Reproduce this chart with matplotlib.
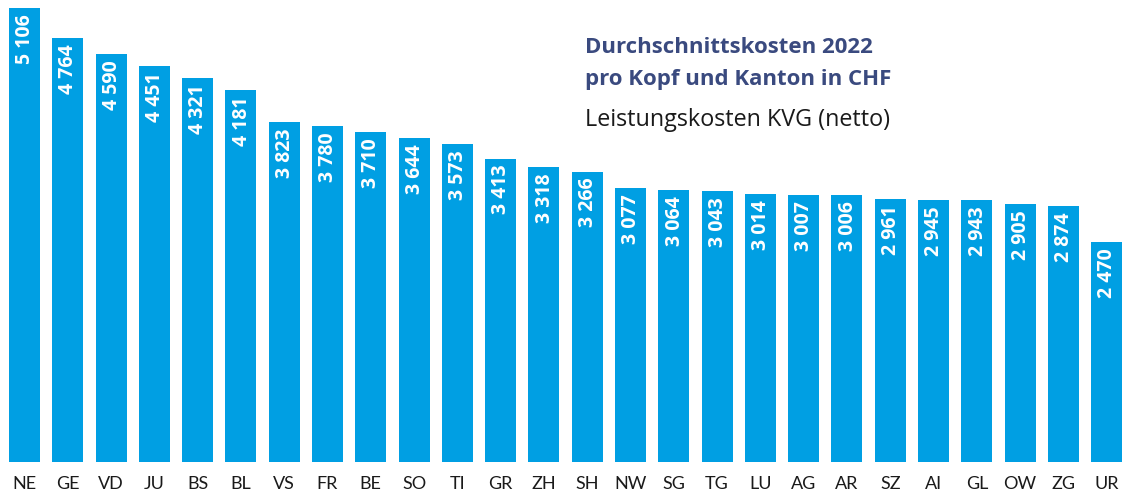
import matplotlib
matplotlib.use('Agg')
from matplotlib import pyplot as plt

# Leistungskosten KVG (netto) pro Kopf, 2022
kantone = ['NE', 'GE', 'VD', 'JU', 'BS', 'BL', 'VS', 'FR', 'BE', 'SO', 'TI', 'GR', 'ZH',
           'SH', 'NW', 'SG', 'TG', 'LU', 'AG', 'AR', 'SZ', 'AI', 'GL', 'OW', 'ZG', 'UR']
kosten = [5106, 4764, 4590, 4451, 4321, 4181, 3823, 3780, 3710, 3644, 3573, 3413, 3318,
          3266, 3077, 3064, 3043, 3014, 3007, 3006, 2961, 2945, 2943, 2905, 2874, 2470]

BLUE = '#009FE3'
NAVY = '#3A4A7F'

plt.rcParams['font.family'] = ['Lato', 'DejaVu Sans']

fig = plt.figure(figsize=(11.24, 4.99), dpi=100)
ax = fig.add_axes([0, 37 / 499, 1, 462 / 499])

x = range(len(kantone))
ax.bar(x, kosten, width=0.716, color=BLUE)

# value labels inside the bars, rotated
for i, v in enumerate(kosten):
    lbl = '{:,}'.format(v).replace(',', ' ')
    ax.annotate(lbl, (i, v), xytext=(0.5, -4.5), textcoords='offset points',
                rotation=90, ha='center', va='top', color='white',
                fontsize=14, fontweight='bold', family='Open Sans')

ax.set_xlim(-0.566, 25.40)
ax.set_ylim(0, 5106 * 462 / 454)
ax.set_xticks(list(x))
ax.set_xticklabels(kantone, fontsize=13, color='#1a1a1a')
ax.tick_params(axis='x', length=0, pad=10)
ax.set_yticks([])
for s in ax.spines.values():
    s.set_visible(False)

tx = 585 / 1124
fig.text(tx, 1 - 53 / 499, 'Durchschnittskosten 2022', fontsize=16,
         fontweight='bold', color=NAVY, va='baseline', family='Open Sans')
fig.text(tx, 1 - 85 / 499, 'pro Kopf und Kanton in CHF', fontsize=16,
         fontweight='bold', color=NAVY, va='baseline', family='Open Sans')
fig.text(tx, 1 - 126 / 499, 'Leistungskosten KVG (netto)', fontsize=16.8,
         color='#1a1a1a', va='baseline', family='Open Sans')

plt.savefig('out.png', dpi=100)
